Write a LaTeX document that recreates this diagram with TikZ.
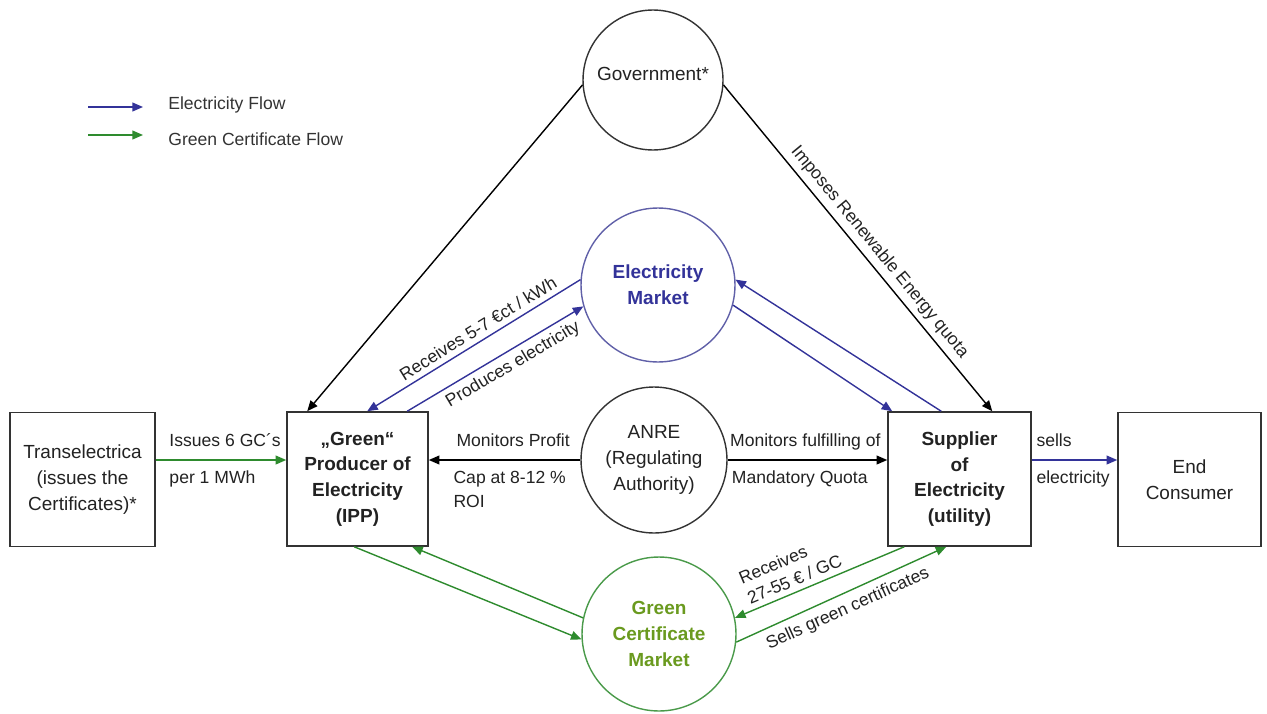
\documentclass[tikz,border=0pt]{standalone}
\usepackage{fontspec}
\setmainfont{Liberation Sans}
\usetikzlibrary{arrows.meta,calc}
\definecolor{eblue}{HTML}{333399}
\definecolor{cgreen}{HTML}{2E8B2E}
\definecolor{gtext}{HTML}{6A9A1F}
\definecolor{txt}{HTML}{222222}
\definecolor{ecirc}{HTML}{6060A8}
\definecolor{gcirc}{HTML}{4A9A4A}
\begin{document}
\begin{tikzpicture}[x=0.02cm,y=-0.02cm,
  font=\fontsize{10}{13.6}\selectfont, text=txt,
  box/.style={draw=black!80, line width=0.9pt, minimum height=2.68cm, inner sep=0pt,
    align=center, font=\fontsize{10.8}{14.6}\selectfont},
  circ/.style={circle, draw=black!80, line width=0.8pt, inner sep=0pt, align=center,
    font=\fontsize{10.8}{14.6}\selectfont},
  tip/.style={-{Triangle[length=6pt,width=5pt]}},
  blk/.style={tip, draw=black, line width=0.8pt},
  eflow/.style={tip, draw=eblue, line width=0.8pt},
  gflow/.style={tip, draw=cgreen, line width=0.8pt},
  lbl/.style={inner sep=0pt, text=txt, font=\fontsize{10}{13.6}\selectfont},
  slbl/.style={sloped, inner sep=3pt, text=txt, font=\fontsize{10}{12.5}\selectfont}
]
\useasboundingbox (0,0) rectangle (1267,713);

% legend
\coordinate (la1) at (88,107);
\coordinate (lb1) at (143,107);
\coordinate (la2) at (88,135);
\coordinate (lb2) at (143,135);
\draw[eflow] (la1) -- (lb1);
\draw[gflow] (la2) -- (lb2);
\node[lbl, anchor=west, text=black!80] (leg1) at (168,105) {Electricity Flow};
\node[lbl, anchor=west, text=black!80] (leg2) at (168,139) {Green Certificate Flow};

% boxes
\node[box, minimum width=2.9cm] (trans) at (82.5,479.5) {Transelectrica\\(issues the\\Certificates)*};
\node[box, minimum width=2.82cm, font=\fontsize{10.8}{14.6}\selectfont\bfseries] (prod) at (357.5,479) {„Green“\\Producer of\\Electricity\\(IPP)};
\node[box, minimum width=2.86cm, font=\fontsize{10.8}{14.6}\selectfont\bfseries] (sup) at (959.5,479) {Supplier\\of\\Electricity\\(utility)};
\node[box, minimum width=2.86cm] (endc) at (1189.5,479.5) {End\\Consumer};

% circles
\node[circ, minimum size=2.8cm, text depth=7pt] (gov) at (653,80) {Government*};
\node[circ, minimum size=3.08cm, draw=ecirc, text=eblue, font=\fontsize{10.8}{14.6}\selectfont\bfseries] (em) at (658,285) {Electricity\\Market};
\node[circ, minimum size=2.92cm] (anre) at (654,460) {ANRE\\(Regulating\\Authority)};
\node[circ, minimum size=3.08cm, draw=gcirc, text=gtext, font=\fontsize{10.8}{14.6}\selectfont\bfseries] (gcm) at (659,634) {Green\\Certificate\\Market};

% government arrows
\draw[blk] (gov.184) -- ($(prod.north west)+(21,0)$);
\draw[blk] (gov.356) -- ($(sup.north west)+(105,0)$)
  node[slbl, pos=0.54, above] {Imposes Renewable Energy quota};

% electricity market arrows
\draw[eflow] (em.176) -- ($(prod.north west)+(81,0)$)
  node[slbl, pos=0.45, above] {Receives 5-7 €ct / kWh};
\draw[eflow] ($(prod.north west)+(121,0)$) -- (em.196)
  node[slbl, pos=0.56, below] {Produces electricity};
\draw[eflow] ($(sup.north west)+(54,0)$) -- (em.4);
\draw[eflow] (em.345) -- ($(sup.north west)+(5,0)$);

% horizontal arrows
\draw[gflow] (trans.east |- anre.center) -- (prod.west |- anre.center)
  node[lbl, pos=0, anchor=base west, xshift=7.4pt, yshift=7.6pt] {Issues 6 GC´s}
  node[lbl, pos=0, anchor=base west, xshift=7.4pt, yshift=-13.4pt] {per 1 MWh};
\draw[blk] (anre.west) -- (prod.east |- anre.center)
  node[lbl, pos=1, anchor=base west, xshift=15.4pt, yshift=7.6pt] {Monitors Profit}
  node[lbl, pos=1, anchor=base west, xshift=13.7pt, yshift=-13.4pt] {Cap at 8-12 \%}
  node[lbl, pos=1, anchor=base west, xshift=13.7pt, yshift=-27.1pt] {ROI};
\draw[blk] (anre.east) -- (sup.west |- anre.center)
  node[lbl, pos=0, anchor=base west, xshift=1pt, yshift=7.6pt] {Monitors fulfilling of}
  node[lbl, pos=0, anchor=base west, xshift=2pt, yshift=-13.4pt] {Mandatory Quota};
\draw[eflow] (sup.east |- anre.center) -- (endc.west |- anre.center)
  node[lbl, pos=0, anchor=base west, xshift=2.3pt, yshift=7.6pt] {sells}
  node[lbl, pos=0, anchor=base west, xshift=2.3pt, yshift=-13.4pt] {electricity};

% green certificate market arrows
\draw[gflow] ($(prod.south west)+(68,0)$) -- (gcm.184.5);
\draw[gflow] (gcm.168) -- ($(prod.south west)+(126,0)$);
\draw[gflow] ($(sup.south west)+(17,0)$) -- (gcm.12.6)
  node[slbl, pos=0.62, above, align=left] {Receives\\27-55 € / GC};
\draw[gflow] (gcm.354) -- ($(sup.south west)+(59,0)$)
  node[slbl, pos=0.5, below, inner sep=4pt] {Sells green certificates};
\end{tikzpicture}
\end{document}
